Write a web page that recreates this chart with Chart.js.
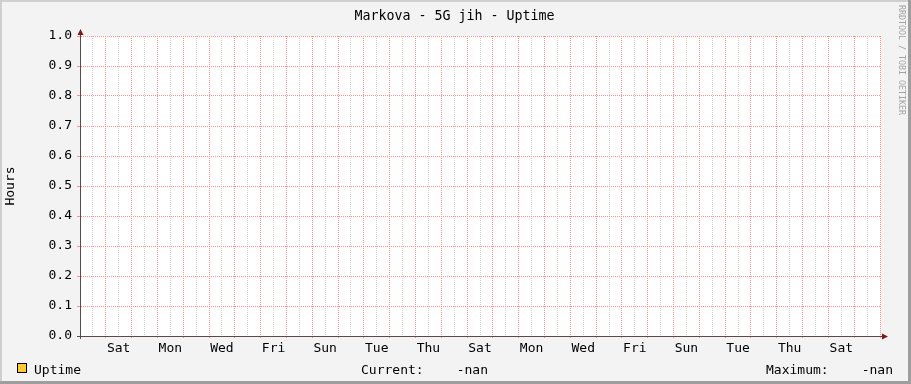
<!DOCTYPE html>
<html>
<head>
<meta charset="utf-8">
<title>Markova - 5G jih - Uptime</title>
<script src="https://cdn.jsdelivr.net/npm/chart.js"></script>
<style>
    html, body { margin: 0; padding: 0; background: #f3f3f3; }
    canvas { display: block; }
</style>
</head>
<body>
<canvas id="uptime-chart" width="911" height="384"></canvas>
<script>
// Graph data (rrdtool export, no samples in the period -> -nan)
const chartTitle = 'Markova - 5G jih - Uptime';
const dayCount = 31;
const labelDays = [1.5, 3.5, 5.5, 7.5, 9.5, 11.5, 13.5, 15.5, 17.5, 19.5, 21.5, 23.5, 25.5, 27.5, 29.5];
const dayLabels = ['Sat', 'Mon', 'Wed', 'Fri', 'Sun', 'Tue', 'Thu', 'Sat', 'Mon', 'Wed', 'Fri', 'Sun', 'Tue', 'Thu', 'Sat'];
const hourTicks = [0, 0.1, 0.2, 0.3, 0.4, 0.5, 0.6, 0.7, 0.8, 0.9, 1.0];
const uptimeHours = [];
const currentValue = '-nan';
const maximumValue = '-nan';

// Colors
const MONO = "'DejaVu Sans Mono', monospace";
const MAJOR_GRID = '#ff9090';
const MINOR_GRID = '#d2d2d2';
const AXIS_COLOR = '#5a4a4a';
const ARROW_COLOR = '#801818';
const UPTIME_COLOR = '#ffc733';

// grid every 12 hours, red at midnight
const gridDays = [];
for (let d = 0; d <= dayCount; d += 0.5) {
    gridDays.push(d);
}

/**
 * Background, 3D frame and the rrdtool style texts
 */
const rrdFrame = {
    id: 'rrdFrame',
    beforeDraw(chart) {
        const ctx = chart.ctx;
        const w = chart.width, h = chart.height;
        const a = chart.chartArea;
        ctx.save();
        ctx.fillStyle = '#f3f3f3';
        ctx.fillRect(0, 0, w, h);
        ctx.fillStyle = '#cfcfcf';
        ctx.fillRect(0, 0, w, 2);
        ctx.fillRect(0, 0, 2, h);
        ctx.fillStyle = '#9e9e9e';
        ctx.fillRect(0, h - 3, w, 3);
        ctx.fillRect(w - 3, 0, 3, h);
        ctx.fillStyle = '#ffffff';
        ctx.fillRect(a.left, a.top, a.right - a.left, a.bottom - a.top);
        ctx.restore();
    },
    afterDraw(chart) {
        const ctx = chart.ctx;
        const a = chart.chartArea;
        ctx.save();

        // axis lines a bit past the area, with arrows
        ctx.strokeStyle = AXIS_COLOR;
        ctx.lineWidth = 1;
        ctx.beginPath();
        ctx.moveTo(a.left - 3, a.bottom + 0.5);
        ctx.lineTo(a.right + 2, a.bottom + 0.5);
        ctx.moveTo(a.left + 0.5, a.bottom + 3);
        ctx.lineTo(a.left + 0.5, a.top - 2);
        ctx.stroke();
        ctx.fillStyle = ARROW_COLOR;
        ctx.beginPath();
        ctx.moveTo(a.left - 2.5, a.top - 1);
        ctx.lineTo(a.left + 3.5, a.top - 1);
        ctx.lineTo(a.left + 0.5, a.top - 7);
        ctx.closePath();
        ctx.fill();
        ctx.beginPath();
        ctx.moveTo(a.right + 2, a.bottom - 2.5);
        ctx.lineTo(a.right + 2, a.bottom + 3.5);
        ctx.lineTo(a.right + 8, a.bottom + 0.5);
        ctx.closePath();
        ctx.fill();

        // title
        ctx.fillStyle = '#000';
        ctx.font = '13.3px ' + MONO;
        ctx.textBaseline = 'alphabetic';
        ctx.textAlign = 'center';
        ctx.fillText(chartTitle, 454.5, 20);

        // legend line
        ctx.font = '13px ' + MONO;
        ctx.fillStyle = UPTIME_COLOR;
        ctx.fillRect(17, 363, 10, 10);
        ctx.strokeStyle = '#000';
        ctx.strokeRect(17.5, 363.5, 9, 9);
        ctx.fillStyle = '#000';
        ctx.textAlign = 'left';
        ctx.fillText(chart.data.datasets[0].label, 34, 374);
        ctx.fillText('Current:', 361, 374);
        ctx.fillText('Maximum:', 766, 374);
        ctx.textAlign = 'right';
        ctx.fillText(currentValue, 488, 374);
        ctx.fillText(maximumValue, 893, 374);

        // watermark
        ctx.fillStyle = '#a4a4a4';
        ctx.font = '8.3px ' + MONO;
        ctx.textAlign = 'left';
        ctx.textBaseline = 'middle';
        ctx.translate(901, 5);
        ctx.rotate(Math.PI / 2);
        ctx.fillText('RRDTOOL / TOBI OETIKER', 0, 0);
        ctx.restore();
    }
};

Chart.defaults.font.family = MONO;
Chart.defaults.font.size = 13;
Chart.defaults.color = '#000';

new Chart(document.getElementById('uptime-chart'), {
    type: 'line',
    data: {
        datasets: [{
            label: 'Uptime',
            data: uptimeHours,
            borderColor: UPTIME_COLOR,
            backgroundColor: UPTIME_COLOR,
            fill: true,
            pointRadius: 0
        }]
    },
    options: {
        responsive: false,
        devicePixelRatio: 1,
        animation: false,
        layout: {
            padding: { left: 0, top: 36, right: 31, bottom: 0 }
        },
        plugins: {
            legend: { display: false },
            tooltip: { enabled: false },
            title: { display: false }
        },
        scales: {
            x: {
                type: 'linear',
                min: 0,
                max: dayCount,
                afterFit: function(scale) {
                    scale.height = 48;
                },
                afterBuildTicks: function(scale) {
                    scale.ticks = gridDays.map(v => ({ value: v }));
                },
                ticks: {
                    autoSkip: false,
                    maxRotation: 0,
                    minRotation: 0,
                    padding: 3,
                    callback: function(value) {
                        const i = labelDays.indexOf(value);
                        return i >= 0 ? dayLabels[i] : '';
                    }
                },
                grid: {
                    lineWidth: 1,
                    tickLength: 2,
                    color: function(c) {
                        if (!c.tick || c.tick.value === 0) return 'transparent';
                        return c.tick.value % 1 === 0 ? MAJOR_GRID : MINOR_GRID;
                    },
                    tickColor: function(c) {
                        return c.tick && c.tick.value % 1 === 0 ? MAJOR_GRID : 'transparent';
                    }
                },
                border: { display: true, color: AXIS_COLOR, width: 1, dash: [1, 1] }
            },
            y: {
                min: 0,
                max: 1,
                afterFit: function(scale) {
                    scale.width = 80;
                },
                afterBuildTicks: function(scale) {
                    scale.ticks = hourTicks.map(v => ({ value: v }));
                },
                ticks: {
                    padding: 5,
                    callback: function(value) {
                        return value.toFixed(1);
                    }
                },
                title: {
                    display: true,
                    text: 'Hours',
                    padding: { top: 3, bottom: 0 }
                },
                grid: {
                    lineWidth: 1,
                    tickLength: 3,
                    color: function(c) {
                        return c.tick && c.tick.value === 0 ? 'transparent' : MAJOR_GRID;
                    },
                    tickColor: MAJOR_GRID
                },
                border: { display: true, color: AXIS_COLOR, width: 1, dash: [1, 1] }
            }
        }
    },
    plugins: [rrdFrame]
});
</script>
</body>
</html>
